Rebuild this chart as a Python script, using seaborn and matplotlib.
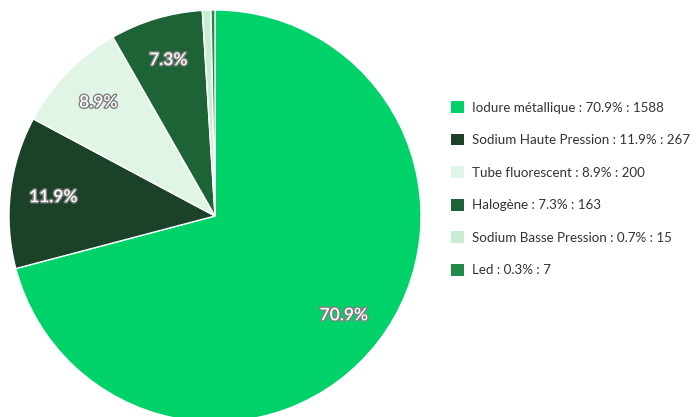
import matplotlib
matplotlib.use("Agg")
import matplotlib.pyplot as plt
import matplotlib.patheffects as pe
from matplotlib.patches import Patch
import seaborn as sns

categories = ["Iodure métallique", "Sodium Haute Pression", "Tube fluorescent",
              "Halogène", "Sodium Basse Pression", "Led"]
valeurs = [1588, 267, 200, 163, 15, 7]
couleurs = ["#00d26a", "#1b4228", "#e0f5e6", "#1e6336", "#c8edd2", "#218a48"]

sns.set_theme(style="white")
plt.rcParams["font.family"] = ["Lato", "DejaVu Sans"]

totale = sum(valeurs)
percentuali = [v / totale * 100 for v in valeurs]

fig = plt.figure(figsize=(6.96, 4.17), dpi=100)
ax = fig.add_axes([9 / 696, -5 / 417, 412 / 696, 412 / 417])


def etichetta(p):
    return f"{p:.1f}%" if p > 5 else ""


wedges, testi, auto = ax.pie(
    valeurs,
    colors=couleurs,
    startangle=90,
    counterclock=False,
    autopct=etichetta,
    pctdistance=0.79,
    radius=1,
    wedgeprops=dict(edgecolor="white", linewidth=1),
)
for t in auto:
    t.set_color("white")
    t.set_fontsize(12.5)
    t.set_fontweight("semibold")
    t.set_path_effects([pe.withStroke(linewidth=2, foreground="#808080")])

ax.set_xlim(-1, 1)
ax.set_ylim(-1, 1)
ax.set_aspect("equal")
ax.axis("off")

handles = [Patch(facecolor=c, edgecolor="none") for c in couleurs]
etichette = [f"{c} : {p:.1f}% : {v}" for c, p, v in zip(categories, percentuali, valeurs)]
fig.legend(
    handles, etichette,
    loc="upper left",
    bbox_to_anchor=(439 / 696, 1 - 89 / 417),
    frameon=False,
    fontsize=9.6,
    handlelength=1.0,
    handleheight=1.0,
    handletextpad=0.6,
    labelspacing=1.5,
    labelcolor="#333333",
)

fig.savefig("out.png", dpi=100)
